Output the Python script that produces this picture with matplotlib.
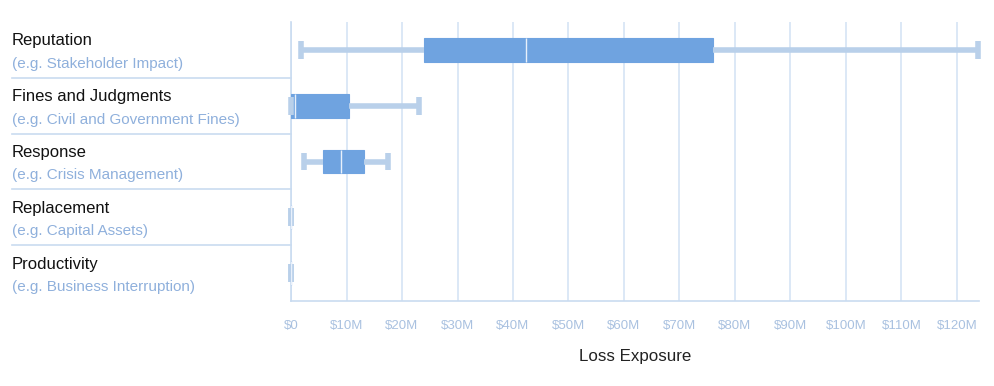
#!/usr/bin/env python3
"""Loss exposure box plot by loss category"""
import matplotlib
matplotlib.use('Agg')
import matplotlib.pyplot as plt
from matplotlib.transforms import blended_transform_factory
from matplotlib.ticker import FuncFormatter

plt.rcParams['font.family'] = ['Liberation Sans', 'DejaVu Sans']

# Data (millions of dollars)
categories = ['Reputation', 'Fines and Judgments', 'Response', 'Replacement', 'Productivity']
examples = ['(e.g. Stakeholder Impact)', '(e.g. Civil and Government Fines)',
            '(e.g. Crisis Management)', '(e.g. Capital Assets)', '(e.g. Business Interruption)']
whisker_low = [1.8, 0.0, 2.4, 0.0, 0.0]
q1 = [23.9, 0.0, 5.8, 0.0, 0.0]
median = [42.3, 0.7, 9.0, 0.0, 0.0]
q3 = [76.0, 10.5, 13.2, 0.0, 0.0]
whisker_high = [123.8, 23.0, 17.4, 0.0, 0.0]
tick_values = list(range(0, 130, 10))

BOX_COLOR = '#6fa3e0'
WHISKER_COLOR = '#b9d0ea'
GRID_COLOR = '#d6e4f5'
SEP_COLOR = '#c9dbf0'
SUB_COLOR = '#8fb0dc'
TICK_COLOR = '#a9c1e0'


def create_chart():
    fig = plt.figure(figsize=(9.94, 3.86), dpi=100)
    ax = fig.add_axes([0.2928, 0.2202, 0.6922, 0.7228])

    stats = []
    for i, name in enumerate(categories):
        stats.append({'label': name, 'whislo': whisker_low[i], 'q1': q1[i],
                      'med': median[i], 'q3': q3[i], 'whishi': whisker_high[i],
                      'fliers': []})

    positions = list(range(len(categories)))
    ax.bxp(stats, positions=positions, orientation='horizontal', widths=0.43,
           capwidths=0.32, patch_artist=True, showfliers=False, zorder=3,
           boxprops=dict(facecolor=BOX_COLOR, edgecolor=BOX_COLOR, linewidth=0.8),
           whiskerprops=dict(color=WHISKER_COLOR, linewidth=4.0, solid_capstyle='butt'),
           capprops=dict(color=WHISKER_COLOR, linewidth=4.0, solid_capstyle='butt',
                         clip_on=False),
           medianprops=dict(color='#e8f0fb', linewidth=1.0))

    ax.set_ylim(len(categories) - 0.5, -0.5)
    ax.set_xlim(0, 124)
    ax.set_yticks([])
    ax.set_xticks(tick_values)
    ax.xaxis.set_major_formatter(FuncFormatter(lambda v, p: '$0' if v == 0 else f'${int(v)}M'))
    ax.tick_params(axis='x', length=0, pad=14, labelsize=9.5, labelcolor=TICK_COLOR)
    ax.grid(axis='x', color=GRID_COLOR, linewidth=1.2, zorder=0)
    ax.set_axisbelow(True)

    for side in ['top', 'right']:
        ax.spines[side].set_visible(False)
    for side in ['left', 'bottom']:
        ax.spines[side].set_color(SEP_COLOR)
        ax.spines[side].set_linewidth(1.2)

    ax.set_xlabel('Loss Exposure', fontsize=12.2, color='#222222', labelpad=12)

    # Row labels and separators on the left
    trans = blended_transform_factory(ax.transAxes, ax.transData)
    for i in range(len(categories)):
        ax.text(-0.4055, i - 0.16, categories[i], transform=trans, fontsize=12,
                color='#111111', ha='left', va='center')
        ax.text(-0.4055, i + 0.25, examples[i], transform=trans, fontsize=11,
                color=SUB_COLOR, ha='left', va='center')
        if i < len(categories) - 1:
            ax.plot([-0.4055, 0], [i + 0.5, i + 0.5], transform=trans,
                    color=SEP_COLOR, linewidth=1.2, clip_on=False)

    return fig


if __name__ == '__main__':
    fig = create_chart()
    fig.savefig('out.png', dpi=100, facecolor='white')
    plt.close(fig)
